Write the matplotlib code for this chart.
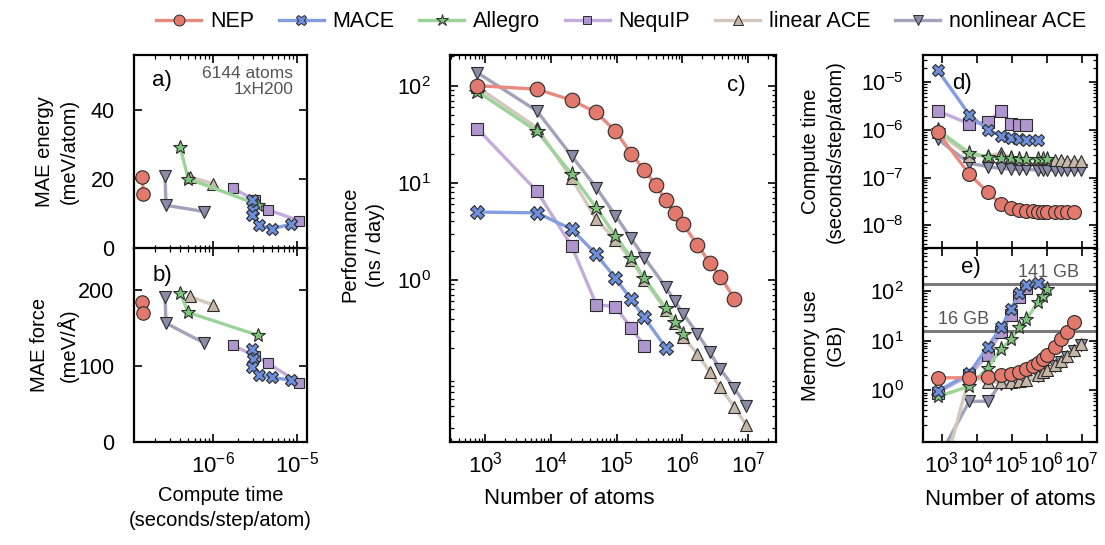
import matplotlib
matplotlib.use("Agg")
import matplotlib.pyplot as plt
import matplotlib.ticker as ticker
from matplotlib.lines import Line2D

# ---------------- data ----------------
MODELS = ["NEP", "MACE", "Allegro", "NequIP", "linear ACE", "nonlinear ACE"]

# a) / b) accuracy vs compute time at 6144 atoms
acc_time = {
    "NEP": [1.41e-7, 1.45e-7],
    "MACE": [2.88e-6, 3.0e-6, 2.9e-6, 3.57e-6, 5.0e-6, 8.5e-6],
    "Allegro": [4.0e-7, 5.0e-7, 3.46e-6],
    "NequIP": [1.71e-6, 3.16e-6, 4.49e-6, 1.06e-5],
    "linear ACE": [5.26e-7, 9.84e-7],
    "nonlinear ACE": [2.64e-7, 2.71e-7, 7.73e-7],
}
mae_energy = {
    "NEP": [20.6, 15.9],
    "MACE": [14.1, 11.2, 9.6, 6.7, 5.7, 7.0],
    "Allegro": [29.4, 20.2, 12.7],
    "NequIP": [17.5, 13.9, 11.2, 8.1],
    "linear ACE": [20.7, 18.8],
    "nonlinear ACE": [20.9, 12.5, 10.7],
}
mae_force = {
    "NEP": [184, 169],
    "MACE": [122, 109, 98, 88, 85, 81],
    "Allegro": [196, 170, 140],
    "NequIP": [127, 113, 103.5, 78],
    "linear ACE": [191, 180],
    "nonlinear ACE": [190, 156, 130],
}

# c) performance vs number of atoms
natoms = {
    "NEP": [768, 6144, 20736, 49152, 96000, 165888, 263424, 393216, 559872,
            768000, 1022208, 1687296, 2592000, 3773184, 6144000],
    "MACE": [768, 6144, 20736, 49152, 96000, 165888, 263424, 559872],
    "Allegro": [768, 6144, 20736, 49152, 96000, 165888, 263424, 559872,
                768000, 1022208],
    "NequIP": [768, 6144, 20736, 49152, 96000, 165888, 263424],
    "linear ACE": [768, 6144, 20736, 49152, 96000, 165888, 263424, 559872,
                   768000, 1022208, 1687296, 2592000, 3773184, 6144000, 9344256],
    "nonlinear ACE": [768, 6144, 20736, 49152, 96000, 165888, 263424, 559872,
                      768000, 1022208, 1687296, 2592000, 3773184, 6144000, 9344256],
}
performance = {
    "NEP": [100, 92, 71, 53, 34, 20, 13.5, 9.5, 6.6, 4.9, 3.75, 2.3, 1.5, 1.08, 0.64],
    "MACE": [5.0, 4.9, 3.33, 1.83, 1.04, 0.63, 0.41, 0.20],
    "Allegro": [87, 34, 12.3, 5.5, 2.84, 1.69, 1.04, 0.51, 0.37, 0.275],
    "NequIP": [36, 8.2, 2.23, 0.556, 0.53, 0.32, 0.21],
    "linear ACE": [97, 37, 11.1, 4.2, 2.6, 1.6, 1.0, 0.49, 0.36, 0.26,
                   0.173, 0.113, 0.078, 0.049, 0.032],
    "nonlinear ACE": [136, 55, 18.9, 8.9, 4.6, 2.67, 1.70, 0.84, 0.60, 0.45,
                      0.28, 0.18, 0.12, 0.077, 0.050],
}

# d) compute time vs number of atoms
compute_time = {
    "NEP": [9.0e-7, 1.18e-7, 4.9e-8, 2.8e-8, 2.3e-8, 2.1e-8, 2.0e-8, 1.95e-8,
            1.9e-8, 1.9e-8, 1.9e-8, 1.88e-8, 1.88e-8, 1.88e-8, 1.88e-8],
    "MACE": [1.8e-5, 2.1e-6, 1.0e-6, 7.6e-7, 6.8e-7, 6.4e-7, 6.2e-7, 6.1e-7],
    "Allegro": [1.0e-6, 3.3e-7, 2.7e-7, 2.6e-7, 2.55e-7, 2.5e-7, 2.5e-7,
                2.45e-7, 2.45e-7, 2.45e-7],
    "NequIP": [2.5e-6, 1.35e-6, 1.45e-6, 2.5e-6, 1.36e-6, 1.26e-6, 1.24e-6],
    "linear ACE": [9.0e-7, 2.9e-7, 2.9e-7, 3.2e-7, 2.7e-7, 2.5e-7, 2.5e-7,
                   2.45e-7, 2.4e-7, 2.5e-7, 2.3e-7, 2.3e-7, 2.27e-7, 2.22e-7, 2.23e-7],
    "nonlinear ACE": [6.4e-7, 2.0e-7, 1.7e-7, 1.55e-7, 1.5e-7, 1.5e-7, 1.49e-7,
                      1.43e-7, 1.45e-7, 1.45e-7, 1.42e-7, 1.43e-7, 1.46e-7,
                      1.42e-7, 1.43e-7],
}

# e) memory use vs number of atoms
memory = {
    "NEP": [1.79, 1.79, 1.87, 1.99, 2.15, 2.32, 2.64, 3.08, 3.6, 4.2, 5.07,
            7.3, 10.7, 15.1, 24.1],
    "MACE": [0.95, 2.2, 7.6, 18.5, 44, 90, 135, 145],
    "Allegro": [0.75, 1.2, 2.85, 6.7, 10.7, 18.5, 27, 60, 81, 108],
    "NequIP": [0.9, 2.0, 5.2, 15, 33, 75, 115],
    "linear ACE": [0.008, 1.9, 1.5, 1.45, 1.5, 1.55, 1.6, 2.0, 2.3, 2.6,
                   3.2, 3.9, 5.0, 6.4, 8.4],
    "nonlinear ACE": [0.04, 0.6, 0.6, 1.37, 1.37, 1.46, 1.52, 1.93, 2.26,
                      2.5, 3.07, 3.7, 4.8, 6.2, 8.1],
}

GPU_LIMITS = [141, 16]
GPU_LABELS = ["141 GB", "16 GB"]

# ---------------- style ----------------
MARKER_COLOR = {
    "NEP": "#E2796C",
    "MACE": "#6C8EDB",
    "Allegro": "#7DC47A",
    "NequIP": "#B096CF",
    "linear ACE": "#C5B6A6",
    "nonlinear ACE": "#8A8BA8",
}
LINE_COLOR = {
    "NEP": "#E98A80",
    "MACE": "#829EE0",
    "Allegro": "#9BD398",
    "NequIP": "#C3ACDB",
    "linear ACE": "#D3C8BC",
    "nonlinear ACE": "#A2A3BA",
}
MARKER = {"NEP": "o", "MACE": "X", "Allegro": "*", "NequIP": "s",
          "linear ACE": "^", "nonlinear ACE": "v"}
MSIZE = {"NEP": 10.5, "MACE": 9.8, "Allegro": 11.5, "NequIP": 8.5,
         "linear ACE": 9, "nonlinear ACE": 9}
ZORD = {"NEP": 9, "MACE": 8, "Allegro": 7, "NequIP": 6,
        "linear ACE": 5, "nonlinear ACE": 4}

plt.rcParams.update({
    "font.family": "Liberation Sans",
    "font.size": 14.5,
    "mathtext.fontset": "custom",
    "mathtext.rm": "Liberation Sans",
    "mathtext.it": "Liberation Sans:italic",
    "mathtext.bf": "Liberation Sans:bold",
    "axes.linewidth": 1.6,
    "xtick.direction": "in",
    "ytick.direction": "in",
    "xtick.top": True,
    "ytick.right": True,
    "xtick.major.size": 6,
    "ytick.major.size": 6,
    "xtick.minor.size": 3,
    "ytick.minor.size": 3,
    "xtick.major.width": 1.2,
    "ytick.major.width": 1.2,
    "xtick.minor.width": 0.9,
    "ytick.minor.width": 0.9,
    "xtick.major.pad": 7,
    "ytick.major.pad": 14,
    "xtick.labelsize": 16,
    "ytick.labelsize": 15.5,
    "axes.labelsize": 14.5,
})

LABEL_KW = dict(linespacing=1.4)


def draw(ax, name, x, y, ms_scale=1.0):
    ax.plot(x, y, "-", color=LINE_COLOR[name], lw=2.4, zorder=ZORD[name] - 0.5,
            solid_capstyle="round")
    ax.plot(x, y, ls="none", marker=MARKER[name], ms=MSIZE[name] * ms_scale,
            mfc=MARKER_COLOR[name], mec="#2b2b2b", mew=0.8, zorder=ZORD[name])


def log_minor(ax, axis="y"):
    loc = ticker.LogLocator(base=10, subs=range(2, 10), numticks=50)
    if axis == "y":
        ax.yaxis.set_minor_locator(loc)
        ax.yaxis.set_minor_formatter(ticker.NullFormatter())
    else:
        ax.xaxis.set_minor_locator(loc)
        ax.xaxis.set_minor_formatter(ticker.NullFormatter())


fig = plt.figure(figsize=(11.05, 5.45), dpi=100)
W, H = 1105.0, 545.0


def add_axes(x0, y0, x1, y1):
    return fig.add_axes([x0 / W, 1 - y1 / H, (x1 - x0) / W, (y1 - y0) / H])


ax_a = add_axes(134, 55, 307, 248.5)
ax_b = add_axes(134, 248.5, 307, 442)
ax_c = add_axes(450, 55, 776, 442)
ax_d = add_axes(923, 55, 1097, 248.5)
ax_e = add_axes(923, 248.5, 1097, 442)

# ---- a) and b)
for ax, vals in ((ax_a, mae_energy), (ax_b, mae_force)):
    for m in MODELS:
        draw(ax, m, acc_time[m], vals[m], 0.92)
    ax.set_xscale("log")
    ax.set_xlim(1.12e-7, 1.33e-5)
    ax.xaxis.set_major_locator(ticker.FixedLocator([1e-6, 1e-5]))
    log_minor(ax, "x")

ax_a.set_ylim(0, 56)
ax_a.set_yticks([0, 20, 40])
ax_a.tick_params(axis="x", labelbottom=False)
ax_b.set_ylim(0, 254)
ax_b.set_yticks([0, 100, 200])

ax_a.set_ylabel("MAE energy\n(meV/atom)", **LABEL_KW)
ax_a.yaxis.set_label_coords(-0.32, 0.5)
ax_b.set_ylabel("MAE force\n(meV/Å)", **LABEL_KW)
ax_b.yaxis.set_label_coords(-0.32, 0.5)
ax_b.set_xlabel("Compute time\n(seconds/step/atom)", **LABEL_KW)
ax_b.xaxis.set_label_coords(0.5, -0.225)

ax_a.text(0.105, 0.87, "a)", transform=ax_a.transAxes, fontsize=16, va="center")
ax_b.text(0.105, 0.86, "b)", transform=ax_b.transAxes, fontsize=16, va="center")
ax_a.text(0.92, 0.945, "6144 atoms\n1xH200", transform=ax_a.transAxes,
          fontsize=12.5, ha="right", va="top", color="#555555",
          multialignment="right", linespacing=1.15)

# ---- c)
for m in MODELS:
    draw(ax_c, m, natoms[m], performance[m])
ax_c.set_xscale("log")
ax_c.set_yscale("log")
ax_c.set_xlim(294, 2.64e7)
ax_c.set_ylim(0.0214, 207)
ax_c.xaxis.set_major_locator(ticker.FixedLocator([1e3, 1e4, 1e5, 1e6, 1e7]))
ax_c.yaxis.set_major_locator(ticker.FixedLocator([1, 10, 100]))
log_minor(ax_c, "x")
log_minor(ax_c, "y")
ax_c.set_xlabel("Number of atoms", fontsize=16)
ax_c.xaxis.set_label_coords(0.365, -0.12)
ax_c.set_ylabel("Performance\n(ns / day)", **LABEL_KW)
ax_c.yaxis.set_label_coords(-0.2, 0.51)
ax_c.text(0.877, 0.922, "c)", transform=ax_c.transAxes, fontsize=16,
          ha="center", va="center")

# ---- d)
for m in MODELS:
    draw(ax_d, m, natoms[m], compute_time[m], 0.95)
ax_d.set_xscale("log")
ax_d.set_yscale("log")
ax_d.set_xlim(293, 2.73e7)
ax_d.set_ylim(3.24e-9, 3.74e-5)
ax_d.xaxis.set_major_locator(ticker.FixedLocator([1e3, 1e4, 1e5, 1e6, 1e7]))
ax_d.xaxis.set_minor_locator(ticker.NullLocator())
ax_d.yaxis.set_major_locator(ticker.FixedLocator([1e-8, 1e-7, 1e-6, 1e-5]))
log_minor(ax_d, "y")
ax_d.tick_params(axis="x", labelbottom=False)
ax_d.set_ylabel("Compute time\n(seconds/step/atom)", **LABEL_KW)
ax_d.yaxis.set_label_coords(-0.45, 0.5)
ax_d.text(0.17, 0.855, "d)", transform=ax_d.transAxes, fontsize=16, va="center")

# ---- e)
for lim, lab, xt in zip(GPU_LIMITS, GPU_LABELS, [1.55e5, 780]):
    ax_e.axhline(lim, color="#7a7a7a", lw=2.2, zorder=1)
    ax_e.text(xt, lim * 1.13, lab, color="#555555", fontsize=13,
              ha="left", va="bottom", zorder=2)
for m in MODELS:
    draw(ax_e, m, natoms[m], memory[m], 0.95)
ax_e.set_xscale("log")
ax_e.set_yscale("log")
ax_e.set_xlim(293, 2.73e7)
ax_e.set_ylim(0.0906, 724)
ax_e.xaxis.set_major_locator(ticker.FixedLocator([1e3, 1e4, 1e5, 1e6, 1e7]))
ax_e.xaxis.set_minor_locator(ticker.NullLocator())
ax_e.yaxis.set_major_locator(ticker.FixedLocator([1, 10, 100]))
log_minor(ax_e, "y")
ax_e.set_xlabel("Number of atoms", fontsize=16)
ax_e.xaxis.set_label_coords(0.5, -0.245)
ax_e.set_ylabel("Memory use\n(GB)", **LABEL_KW)
ax_e.yaxis.set_label_coords(-0.45, 0.5)
ax_e.text(0.22, 0.9, "e)", transform=ax_e.transAxes, fontsize=16, va="center")

for ax in (ax_a, ax_b, ax_c, ax_d, ax_e):
    for sp in ax.spines.values():
        sp.set_zorder(20)

# ---- legend
handles = [
    Line2D([0], [0], color=LINE_COLOR[m], lw=2.4, marker=MARKER[m],
           ms=MSIZE[m] * 0.75, mfc=MARKER_COLOR[m], mec="#2b2b2b", mew=0.7,
           label=m)
    for m in MODELS
]
fig.legend(handles=handles, loc="upper center", bbox_to_anchor=(0.562, 1.015),
           ncol=6, frameon=False, fontsize=15.5, handlelength=2.1,
           handletextpad=0.4, columnspacing=1.15)

fig.savefig("out.png", dpi=100)
